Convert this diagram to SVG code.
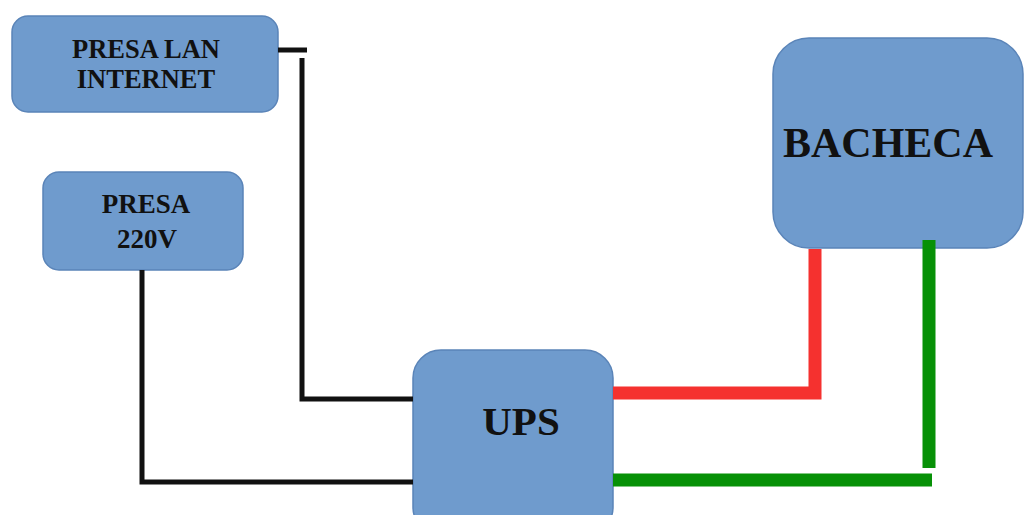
<svg xmlns="http://www.w3.org/2000/svg" width="1025" height="515" viewBox="0 0 1025 515">
<style>
.box{fill:#6f9bcd;stroke:#5a84b8;stroke-width:1.5}
.lbl{font-family:"Liberation Serif","Times New Roman",serif;font-weight:bold;fill:#111;text-anchor:middle}
.blk{stroke:#111;stroke-width:5;fill:none}
.red{stroke:#f5312f;stroke-width:13;fill:none}
.grn{stroke:#079107;stroke-width:13;fill:none}
</style>
<rect width="1025" height="515" fill="#fff"/>
<g id="presa-lan">
<rect class="box" x="12" y="16" width="266" height="96" rx="16"/>
<text class="lbl" x="146" y="58" font-size="26.5">PRESA LAN</text>
<text class="lbl" x="146" y="88" font-size="26.5">INTERNET</text>
</g>
<g id="presa-220v">
<rect class="box" x="43" y="172" width="200" height="98" rx="16"/>
<text class="lbl" x="146" y="213" font-size="27">PRESA</text>
<text class="lbl" x="147" y="248" font-size="27">220V</text>
</g>
<g id="ups">
<rect class="box" x="413" y="350" width="200" height="185" rx="28"/>
<text class="lbl" x="521" y="435" font-size="41">UPS</text>
</g>
<g id="bacheca">
<rect class="box" x="773" y="38" width="250" height="210" rx="36"/>
<text class="lbl" x="888" y="157" font-size="42">BACHECA</text>
</g>
<g id="connectors">
<line class="blk" x1="278" y1="50" x2="307" y2="50"/>
<polyline class="blk" points="302,58 302,399 413,399"/>
<polyline class="blk" points="142,270 142,482 413,482"/>
<polyline class="red" points="613,393 815,393 815,249" stroke-linejoin="miter"/>
<line class="grn" x1="929" y1="240" x2="929" y2="468"/>
<line class="grn" x1="613" y1="480" x2="932" y2="480"/>
</g>
</svg>
